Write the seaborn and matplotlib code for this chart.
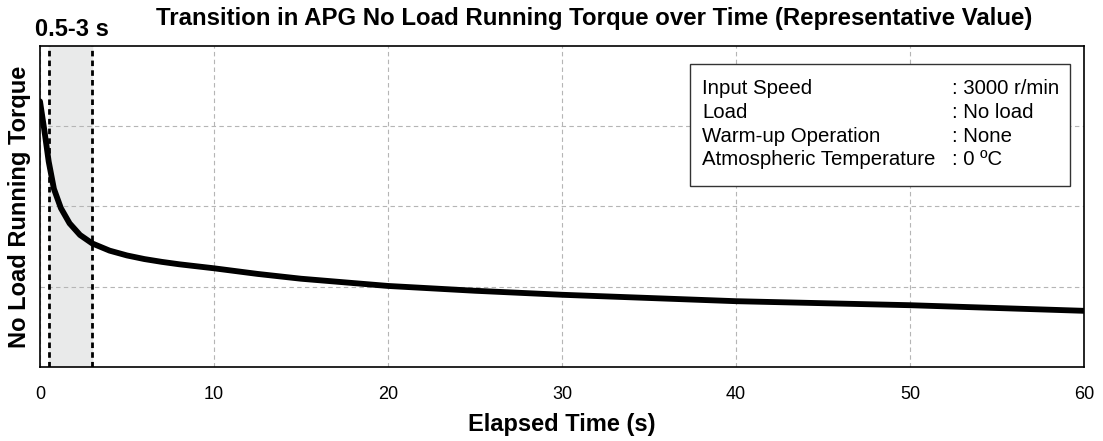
import numpy as np
import pandas as pd
import matplotlib
matplotlib.use('Agg')
import matplotlib.pyplot as plt
from matplotlib.patches import Rectangle
import seaborn as sns

# Datos (valor representativo, sin unidades en eje Y)
elapsed_s = [0, 0.25, 0.5, 0.8, 1.2, 1.7, 2.3, 3, 4, 5, 6, 7, 8, 10, 12.5,
             15, 20, 25, 30, 35, 40, 45, 50, 55, 60]
torque = [3.31, 2.95, 2.56, 2.22, 1.98, 1.79, 1.645, 1.54, 1.45, 1.39, 1.345, 1.31, 1.28, 1.23, 1.16,
          1.10, 1.01, 0.95, 0.90, 0.86, 0.82, 0.795, 0.77, 0.735, 0.70]

window = [0.5, 3]
x_ticks = [0, 10, 20, 30, 40, 50, 60]

cond_names = ["Input Speed", "Load", "Warm-up Operation", "Atmospheric Temperature"]
cond_values = [": 3000 r/min", ": No load", ": None", ": 0 ºC"]

df = pd.DataFrame({'t': elapsed_s, 'torque': torque})

sns.set_style('white')
plt.rcParams['font.family'] = ['Liberation Sans', 'DejaVu Sans']
plt.rcParams['text.color'] = 'black'
plt.rcParams['axes.labelcolor'] = 'black'
plt.rcParams['xtick.color'] = 'black'

fig = plt.figure(figsize=(11.03, 4.41), dpi=100)
ax = fig.add_axes([40 / 1103, 74 / 441, 1044 / 1103, 321 / 441])

# zona sombreada 0.5-3 s
ax.axvspan(window[0], window[1], color='#e9eaea', zorder=0)
for xv in window:
    ax.axvline(xv, color='black', lw=2, ls=(0, (2, 1.5)), zorder=2)

sns.lineplot(data=df, x='t', y='torque', color='black', lw=4.2, ax=ax, zorder=3)

ax.set_xlim(0, 60)
ax.set_ylim(0, 4)
ax.set_xticks(x_ticks)
ax.set_xticklabels([str(v) for v in x_ticks], fontsize=13)
ax.set_yticks([1, 2, 3])
ax.set_yticklabels([])
ax.tick_params(length=0, pad=14)
ax.grid(True, color='#b5b5b5', ls=(0, (4, 3)), lw=0.8)
ax.set_axisbelow(True)
for s in ax.spines.values():
    s.set_color('black')
    s.set_linewidth(1.2)

ax.set_xlabel('Elapsed Time (s)', fontsize=17, fontweight='bold')
ax.xaxis.set_label_coords(0.5, (441 - 425 - 74) / 321)
ax.xaxis.label.set_va('center')
ax.set_ylabel('No Load Running Torque', fontsize=17, fontweight='bold')
ax.yaxis.set_label_coords((20 - 40) / 1044, 0.5)
ax.yaxis.label.set_va('center')

fig.text(594 / 1103, 1 - 18 / 441, 'Transition in APG No Load Running Torque over Time (Representative Value)',
         ha='center', va='center', fontsize=17.3, fontweight='bold')
fig.text(35 / 1103, 1 - 29 / 441, '0.5-3 s', ha='left', va='center', fontsize=17, fontweight='bold')

# cuadro de condiciones
box = Rectangle((690 / 1103, 1 - 186 / 441), 380 / 1103, 122 / 441, transform=fig.transFigure,
                facecolor='white', edgecolor='#333333', lw=1.0, zorder=5)
ax.add_patch(box)
box.set_clip_on(False)
for i, (n, v) in enumerate(zip(cond_names, cond_values)):
    yy = 1 - (89 + i * 23.5) / 441
    fig.text(702 / 1103, yy, n, ha='left', va='center', fontsize=14.7, zorder=6)
    fig.text(952 / 1103, yy, v, ha='left', va='center', fontsize=14.7, zorder=6)

fig.savefig('out.png', dpi=100)
